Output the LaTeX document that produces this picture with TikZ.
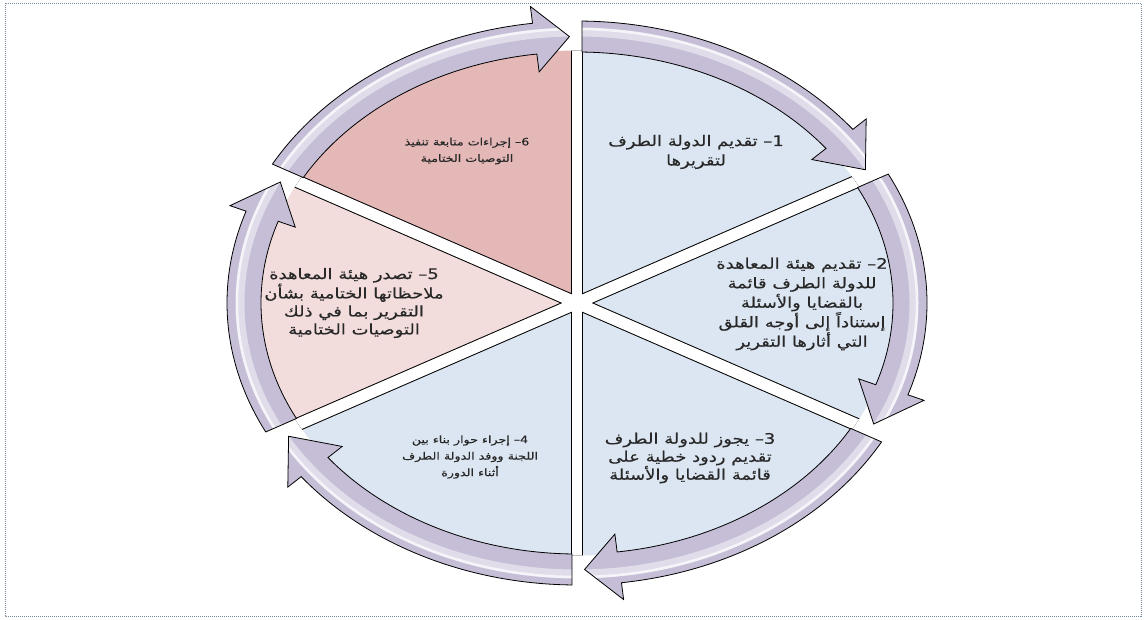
\documentclass[tikz,border=0pt]{standalone}
\usepackage{fontspec}
\newfontfamily\arabicfont[Script=Arabic, FakeStretch=1.24, FakeBold=0.4]{DejaVu Sans}
\TeXXeTstate=1
\definecolor{secblue}{RGB}{220,230,242}
\definecolor{secpink}{RGB}{242,221,220}
\definecolor{secrose}{RGB}{229,184,184}
\definecolor{arrowc}{RGB}{197,190,214}
\definecolor{arrowhi}{RGB}{224,220,234}
\definecolor{framec}{RGB}{120,136,160}
\definecolor{txtc}{RGB}{40,40,40}
\newcommand\arrowpath[4]{(#1:350pt and 282pt) arc[start angle=#1,end angle=#3,x radius=350pt,y radius=282pt] -- (#3:367pt and 299pt) -- (#4:333pt and 266.5pt) -- (#3:298pt and 233pt) -- (#3:316pt and 251pt) arc[start angle=#3,end angle=#2,x radius=316pt,y radius=251pt] -- cycle}
\newcommand\ringarrow[4]{%
  \begin{scope}
    \clip \arrowpath{#1}{#2}{#3}{#4};
    \fill[arrowc] (-400pt,-320pt) rectangle (400pt,320pt);
    \draw[arrowhi, line width=9pt] (0,0) ellipse [x radius=337pt, y radius=271pt];
    \draw[white, opacity=0.7, line width=2.5pt] (0,0) ellipse [x radius=340pt, y radius=274pt];
  \end{scope}
  \draw[arrowline] \arrowpath{#1}{#2}{#3}{#4};}
\tikzset{
  arrowline/.style={draw=black, line width=0.8pt, line join=miter},
  bigtxt/.style={text=txtc, align=center, inner sep=0pt, font=\arabicfont\fontsize{14.5}{19.5}\selectfont},
  smalltxt/.style={text=txtc, align=center, inner sep=0pt, font=\arabicfont\fontsize{10.2}{16.5}\selectfont}
}
\begin{document}
\begin{tikzpicture}[x=1pt,y=1pt]
\useasboundingbox (0,0) rectangle (1146,-619);
\fill[white] (0,0) rectangle (1146,-619);
\draw[framec, densely dotted, line width=1pt] (5,-3) rectangle (1141,-616);
\begin{scope}[shift={(577,-303)}]
  % sectors
  \begin{scope}
    \clip (0,0) ellipse [x radius=317.5pt, y radius=252.5pt];
    \fill[secblue] (0,0) -- (90:1000pt) -- (23.5:1000pt) -- cycle;
    \fill[secblue] (0,0) -- (23.5:1000pt) -- (0:1000pt) -- (-23.5:1000pt) -- cycle;
    \fill[secblue] (0,0) -- (-23.5:1000pt) -- (-90:1000pt) -- cycle;
    \fill[secblue] (0,0) -- (-90:1000pt) -- (203.5:1000pt) -- cycle;
    \fill[secpink] (0,0) -- (203.5:1000pt) -- (180:1000pt) -- (156.5:1000pt) -- cycle;
    \fill[secrose] (0,0) -- (156.5:1000pt) -- (90:1000pt) -- cycle;
    % divider bands
    \draw[black, line width=11.5pt] (90:600pt) -- (-90:600pt);
    \draw[black, line width=13.5pt] (23.5:600pt) -- (203.5:600pt);
    \draw[black, line width=13.5pt] (-23.5:600pt) -- (156.5:600pt);
    \draw[white, line width=9.5pt] (90:600pt) -- (-90:600pt);
    \draw[white, line width=11.5pt] (23.5:600pt) -- (203.5:600pt);
    \draw[white, line width=11.5pt] (-23.5:600pt) -- (156.5:600pt);
  \end{scope}
  % ring arrows
  \ringarrow{89.18}{89.09}{38}{30}
  \ringarrow{27.21}{27.40}{-19}{-27}
  \ringarrow{-29.51}{-29.98}{-82.7}{-88.7}
  \ringarrow{269.18}{269.09}{218}{210}
  \ringarrow{207.21}{207.40}{161}{153}
  \ringarrow{150.49}{150.02}{97.3}{91.3}
\end{scope}
% texts
\node[bigtxt] (t1) at (696,-152) {\beginR 1\kern0pt– تقديم الدولة الطرف\endR\\\beginR لتقريرها\endR};
\node[bigtxt] (t2) at (802,-304) {\beginR 2\kern0pt– تقديم هيئة المعاهدة\endR\\\beginR للدولة الطرف قائمة\endR\\\beginR بالقضايا والأسئلة\endR\\\beginR إستناداً إلى أوجه القلق\endR\\\beginR التي أثارها التقرير\endR};
\node[bigtxt, font=\arabicfont\fontsize{14.5}{18}\selectfont] (t3) at (690,-458) {\beginR 3\kern0pt– يجوز للدولة الطرف\endR\\\beginR تقديم ردود خطية على\endR\\\beginR قائمة القضايا والأسئلة\endR};
\node[smalltxt] (t4) at (470,-457) {\beginR 4\kern0pt– إجراء حوار بناء بين\endR\\\beginR اللجنة ووفد الدولة الطرف\endR\\\beginR أثناء الدورة\endR};
\node[bigtxt, font=\arabicfont\fontsize{14.5}{18}\selectfont] (t5) at (354,-303) {\beginR 5\kern0pt– تصدر هيئة المعاهدة\endR\\\beginR ملاحظاتها الختامية بشأن\endR\\\beginR التقرير بما في ذلك\endR\\\beginR التوصيات الختامية\endR};
\node[smalltxt] (t6) at (467,-151) {\beginR 6\kern0pt– إجراءات متابعة تنفيذ\endR\\\beginR التوصيات الختامية\endR};
\end{tikzpicture}
\end{document}
